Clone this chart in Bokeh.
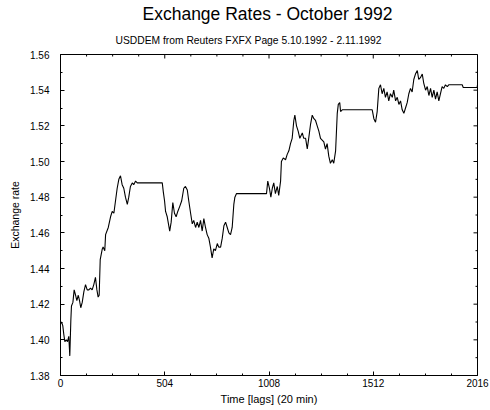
import math
from bokeh.plotting import figure
from bokeh.models import Range1d, FixedTicker, Title, NumeralTickFormatter
from bokeh.embed import file_html
from bokeh.resources import INLINE

# USDDEM quotes (time in 20-minute lags)
lag = [
    0, 5, 11, 16, 21, 28, 34, 40, 45, 50,
    53, 60, 66, 73, 79, 86, 92, 98, 105, 113,
    121, 129, 137, 145, 153, 161, 169, 176, 182, 187,
    192, 202, 206, 214, 218, 231, 242, 250, 258, 266,
    274, 282, 290, 298, 306, 314, 323, 330, 338, 347,
    354, 363, 371, 492, 497, 503, 508, 516, 528, 535,
    543, 551, 559, 567, 577, 586, 596, 604, 613, 620,
    629, 637, 644, 653, 661, 669, 677, 685, 693, 701,
    709, 717, 725, 733, 741, 749, 758, 765, 774, 782,
    790, 798, 806, 814, 822, 830, 838, 843, 851, 857,
    996, 1002, 1010, 1017, 1024, 1031, 1039, 1048, 1055, 1064,
    1068, 1077, 1088, 1096, 1104, 1112, 1120, 1128, 1133, 1141,
    1149, 1157, 1169, 1176, 1185, 1193, 1200, 1209, 1217, 1225,
    1233, 1241, 1249, 1257, 1265, 1273, 1281, 1289, 1297, 1305,
    1314, 1321, 1330, 1338, 1343, 1350, 1354, 1362, 1507, 1515,
    1523, 1531, 1539, 1547, 1555, 1563, 1571, 1579, 1587, 1595,
    1604, 1611, 1620, 1628, 1636, 1644, 1652, 1660, 1668, 1676,
    1684, 1692, 1700, 1708, 1716, 1725, 1732, 1740, 1749, 1756,
    1765, 1773, 1781, 1789, 1797, 1805, 1813, 1821, 1829, 1837,
    1845, 1853, 1861, 1870, 1877, 1942, 1947, 2014, 2016,
]
usddem = [
    1.409, 1.410, 1.408, 1.403, 1.399, 1.400, 1.399, 1.402, 1.391, 1.411,
    1.419, 1.421, 1.428, 1.425, 1.422, 1.425, 1.422, 1.418, 1.421, 1.427,
    1.431, 1.428, 1.428, 1.429, 1.428, 1.431, 1.435, 1.428, 1.424, 1.425,
    1.445, 1.451, 1.452, 1.450, 1.459, 1.463, 1.469, 1.472, 1.471, 1.478,
    1.485, 1.490, 1.492, 1.487, 1.485, 1.480, 1.476, 1.480, 1.486, 1.488,
    1.487, 1.489, 1.488, 1.488, 1.483, 1.478, 1.472, 1.469, 1.461, 1.466,
    1.477, 1.471, 1.469, 1.472, 1.475, 1.478, 1.485, 1.486, 1.484, 1.478,
    1.471, 1.465, 1.467, 1.463, 1.466, 1.463, 1.467, 1.461, 1.468, 1.463,
    1.459, 1.457, 1.452, 1.446, 1.451, 1.450, 1.454, 1.452, 1.452, 1.457,
    1.464, 1.466, 1.463, 1.460, 1.459, 1.463, 1.476, 1.480, 1.482, 1.482,
    1.482, 1.489, 1.485, 1.480, 1.485, 1.488, 1.482, 1.486, 1.481, 1.489,
    1.500, 1.502, 1.501, 1.504, 1.506, 1.510, 1.513, 1.523, 1.526, 1.520,
    1.517, 1.513, 1.516, 1.513, 1.513, 1.507, 1.513, 1.521, 1.526, 1.524,
    1.523, 1.520, 1.517, 1.513, 1.512, 1.511, 1.507, 1.510, 1.503, 1.499,
    1.501, 1.499, 1.506, 1.527, 1.532, 1.533, 1.528, 1.529, 1.529, 1.524,
    1.522, 1.528, 1.541, 1.543, 1.538, 1.541, 1.536, 1.539, 1.534, 1.538,
    1.536, 1.540, 1.534, 1.536, 1.532, 1.534, 1.529, 1.527, 1.530, 1.533,
    1.538, 1.541, 1.539, 1.546, 1.549, 1.551, 1.546, 1.547, 1.549, 1.544,
    1.540, 1.542, 1.537, 1.541, 1.536, 1.540, 1.535, 1.539, 1.534, 1.538,
    1.542, 1.541, 1.543, 1.542, 1.543, 1.543, 1.5415, 1.5415, 1.543,
]

x_ticks = [0, 504, 1008, 1512, 2016]
x_minor = [126, 252, 378, 630, 756, 882, 1134, 1260, 1386, 1638, 1764, 1890]
y_ticks = [1.38, 1.40, 1.42, 1.44, 1.46, 1.48, 1.50, 1.52, 1.54, 1.56]
y_minor = [1.39, 1.41, 1.43, 1.45, 1.47, 1.49, 1.51, 1.53, 1.55]

title_text = "Exchange Rates - October 1992"
subtitle_text = "USDDEM from Reuters FXFX Page 5.10.1992 - 2.11.1992"
x_label = "Time [lags] (20 min)"
y_label = "Exchange rate"

FONT = "Liberation Sans"
X0, X1 = x_ticks[0], x_ticks[-1]
Y0, Y1 = y_ticks[0], y_ticks[-1]

p = figure(width=490, height=410, title=None,
           x_range=Range1d(X0, X1), y_range=Range1d(Y0, Y1),
           output_backend="svg", toolbar_location=None,
           min_border_left=60, min_border_right=13,
           min_border_top=54, min_border_bottom=35)

p.line(lag, usddem, line_color="black", line_width=1.1)

p.xgrid.visible = False
p.ygrid.visible = False
p.outline_line_color = "black"
p.outline_line_width = 1
p.background_fill_color = "white"
p.border_fill_color = "white"

for ax, tk, mn in ((p.xaxis[0], x_ticks, x_minor), (p.yaxis[0], y_ticks, y_minor)):
    ax.ticker = FixedTicker(ticks=tk, minor_ticks=mn)
    ax.axis_line_color = "black"
    ax.major_tick_line_color = "black"
    ax.minor_tick_line_color = "black"
    ax.major_tick_in = 4
    ax.major_tick_out = 0
    ax.minor_tick_in = 2
    ax.minor_tick_out = 0
    ax.major_label_text_font = FONT
    ax.major_label_text_font_size = "10px"
    ax.major_label_text_color = "black"

p.xaxis[0].major_label_standoff = 3
p.yaxis[0].major_label_standoff = 11
p.yaxis[0].formatter = NumeralTickFormatter(format="0.00")

# mirrored inward ticks on the top and right frame edges (clipped to the frame)
p.scatter(x_ticks, [Y1] * len(x_ticks), marker="dash", angle=math.pi / 2,
          size=8, line_color="black", line_width=1)
p.scatter(x_minor, [Y1] * len(x_minor), marker="dash", angle=math.pi / 2,
          size=4, line_color="black", line_width=1)
p.scatter([X1] * len(y_ticks), y_ticks, marker="dash", angle=0,
          size=8, line_color="black", line_width=1)
p.scatter([X1] * len(y_minor), y_minor, marker="dash", angle=0,
          size=4, line_color="black", line_width=1)


def title(text, size, align="center", offset=0, standoff=0):
    return Title(text=text, align=align, offset=offset, standoff=standoff,
                 text_font=FONT, text_font_size=size,
                 text_font_style="normal", text_color="black")


# stacked outward from the frame: first added sits nearest to it
p.add_layout(title(subtitle_text, "10.3px", "left", 55, 17), "above")
p.add_layout(title(title_text, "17.5px", "left", 82, 1), "above")
p.add_layout(title(x_label, "11px", "center", 0, 3), "below")
p.add_layout(title(y_label, "10.5px", "center", 0, 13), "left")

open("out.html", "w").write(file_html(p, INLINE))
